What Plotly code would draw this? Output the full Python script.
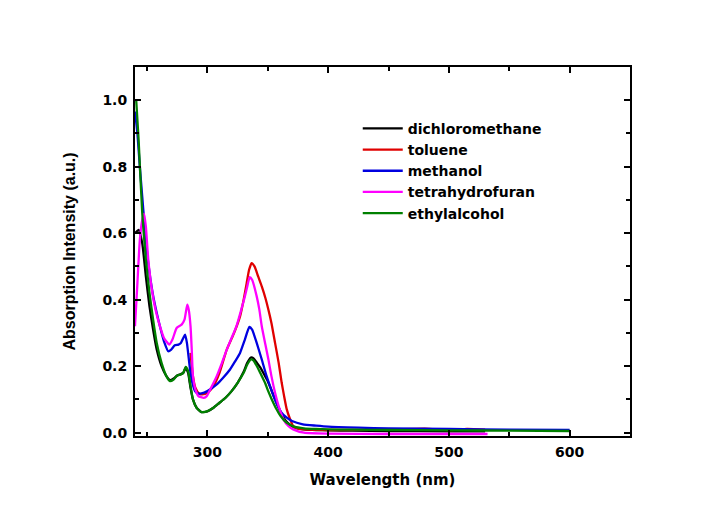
import plotly.graph_objects as go

# dichloromethane (black)
x_dcm = [240, 243, 246, 249, 252, 255, 258, 262, 266, 269, 272, 275, 278, 280, 282, 284, 286, 288, 291, 295,
         300, 305, 310, 315, 320, 325, 330, 333, 336, 338, 341, 344, 347, 350, 353, 356, 359, 362, 365, 368,
         372, 376, 380, 390, 400, 420, 450, 500, 530]
y_dcm = [0.60, 0.61, 0.57, 0.47, 0.38, 0.31, 0.25, 0.20, 0.17, 0.158, 0.163, 0.172, 0.176, 0.18, 0.195, 0.18,
         0.135, 0.10, 0.075, 0.062, 0.064, 0.075, 0.09, 0.105, 0.125, 0.15, 0.183, 0.21, 0.226, 0.224, 0.21,
         0.195, 0.175, 0.155, 0.128, 0.10, 0.075, 0.052, 0.035, 0.025, 0.016, 0.012, 0.01, 0.008, 0.007,
         0.006, 0.005, 0.004, 0.004]

# toluene (red)
x_tol = [286, 288, 290, 293, 296, 300, 305, 310, 316, 321.5, 327, 330, 332.5, 334.5, 336.6, 339, 342, 345, 348,
         350.5, 353, 356, 359, 361.5, 363.5, 365.7, 368, 371, 375, 380, 400, 450, 480, 500, 515, 530]
y_tol = [0.24, 0.17, 0.135, 0.118, 0.115, 0.12, 0.14, 0.18, 0.25, 0.295, 0.35, 0.40, 0.45, 0.49, 0.51, 0.50,
         0.47, 0.44, 0.405, 0.37, 0.33, 0.27, 0.21, 0.15, 0.11, 0.07, 0.045, 0.02, 0.012, 0.01, 0.008, 0.009,
         0.012, 0.008, 0.011, 0.009]

# methanol (blue)
x_met = [240, 242, 244, 246, 248, 251, 254.6, 258, 261, 264, 267.6, 270, 273, 276, 278, 280, 281.5, 283, 285.6,
         287.5, 289.7, 292, 295, 300, 307.7, 313, 318.7, 323, 327, 331, 334.7, 337, 340.8, 345, 349, 353, 357,
         361, 365.7, 370, 379, 390, 400, 425, 450, 500, 550, 600]
y_met = [0.966, 0.90, 0.80, 0.71, 0.62, 0.51, 0.42, 0.36, 0.315, 0.275, 0.245, 0.25, 0.263, 0.265, 0.27, 0.285,
         0.295, 0.27, 0.19, 0.15, 0.125, 0.118, 0.118, 0.125, 0.145, 0.165, 0.19, 0.215, 0.24, 0.28, 0.318,
         0.31, 0.27, 0.22, 0.17, 0.128, 0.09, 0.062, 0.045, 0.035, 0.025, 0.021, 0.018, 0.015, 0.013, 0.011,
         0.009, 0.008]

# tetrahydrofuran (magenta)
x_thf = [240, 242, 244, 246, 247.5, 249, 251, 254, 257, 260.7, 264, 268.4, 271, 274.5, 278.6, 281, 283.3, 284.5,
         286, 287, 288, 290, 292.5, 297, 299.4, 303, 307.7, 312, 316, 320, 324, 328, 331, 333, 335, 337, 340.8,
         343, 345, 348, 350.5, 353, 356, 359, 363, 367, 371, 380, 400, 450, 500, 532]
y_thf = [0.32, 0.45, 0.58, 0.64, 0.659, 0.62, 0.52, 0.43, 0.37, 0.32, 0.285, 0.265, 0.28, 0.315, 0.325, 0.34,
         0.385, 0.37, 0.32, 0.25, 0.17, 0.13, 0.11, 0.105, 0.11, 0.135, 0.17, 0.21, 0.25, 0.285, 0.32, 0.37,
         0.41, 0.44, 0.468, 0.46, 0.41, 0.37, 0.32, 0.265, 0.22, 0.17, 0.12, 0.08, 0.04, 0.02, 0.01, 0.0,
         -0.003, -0.004, -0.004, -0.004]

# ethylalcohol (green)
x_eth = [241, 243, 246, 249, 252, 255, 258, 262, 266, 269, 272, 275, 278, 280, 282, 284, 286, 288, 291, 295,
         300, 305, 310, 315, 320, 325, 330, 333, 336, 338, 341, 344, 347.7, 350, 353.3, 357, 360.6, 365.5,
         372, 380, 390, 400, 420, 450, 500, 550, 600]
y_eth = [1.0, 0.88, 0.66, 0.52, 0.42, 0.34, 0.27, 0.21, 0.17, 0.155, 0.16, 0.172, 0.175, 0.18, 0.198, 0.185,
         0.14, 0.10, 0.075, 0.062, 0.065, 0.075, 0.09, 0.105, 0.125, 0.15, 0.18, 0.205, 0.22, 0.218, 0.20,
         0.178, 0.15, 0.128, 0.10, 0.072, 0.05, 0.03, 0.018, 0.013, 0.011, 0.01, 0.009, 0.008, 0.007, 0.006,
         0.005]

x_ticks = [300, 400, 500, 600]
y_ticks = [0.0, 0.2, 0.4, 0.6, 0.8, 1.0]

series = [
    ("dichloromethane", x_dcm, y_dcm, "#000000"),
    ("toluene", x_tol, y_tol, "#e00000"),
    ("methanol", x_met, y_met, "#0000e0"),
    ("tetrahydrofuran", x_thf, y_thf, "#ff00ff"),
    ("ethylalcohol", x_eth, y_eth, "#008000"),
]

WIDE = "DejaVu Sans, Verdana, sans-serif"
NARROW = "Liberation Sans, Arial, sans-serif"

fig = go.Figure()
for name, xs, ys, col in series:
    fig.add_trace(go.Scatter(x=xs, y=ys, mode="lines", name=name,
                             line=dict(color=col, width=2.3, shape="spline", smoothing=0.5)))

axis_common = dict(
    showline=True, linecolor="black", linewidth=2, mirror="ticks",
    ticks="inside", ticklen=6, tickwidth=1.5, tickcolor="black",
    showgrid=False, zeroline=False,
    tickfont=dict(family=WIDE, size=14, color="black", weight="bold"),
)

fig.update_layout(
    width=719, height=512,
    margin=dict(l=127, r=97, t=59, b=84),
    paper_bgcolor="white", plot_bgcolor="white",
    font=dict(family=WIDE, color="black"),
    xaxis=dict(range=[240, 650], tickvals=x_ticks,
               minor=dict(ticks="inside", ticklen=4, tickwidth=1.5, tickcolor="black", dtick=50, tick0=250),
               title=dict(text="<b>Wavelength (nm)</b>", font=dict(family=WIDE, size=15, color="black"), standoff=16),
               ticklabelstandoff=2,
               **axis_common),
    yaxis=dict(range=[-0.01, 1.1], tickvals=y_ticks, tickformat=".1f",
               minor=dict(ticks="inside", ticklen=4, tickwidth=1.5, tickcolor="black", dtick=0.1, tick0=0),
               title=dict(text="<b>Absorption Intensity (a.u.)</b>", font=dict(family=NARROW, size=16, color="black"), standoff=23),
               ticklabelstandoff=3,
               **axis_common),
    legend=dict(x=0.45, y=0.876, xanchor="left", yanchor="top",
                bgcolor="rgba(0,0,0,0)", borderwidth=0, itemwidth=40,
                font=dict(family=WIDE, size=14, color="black", weight="bold")),
)

fig.write_html("out.html")
